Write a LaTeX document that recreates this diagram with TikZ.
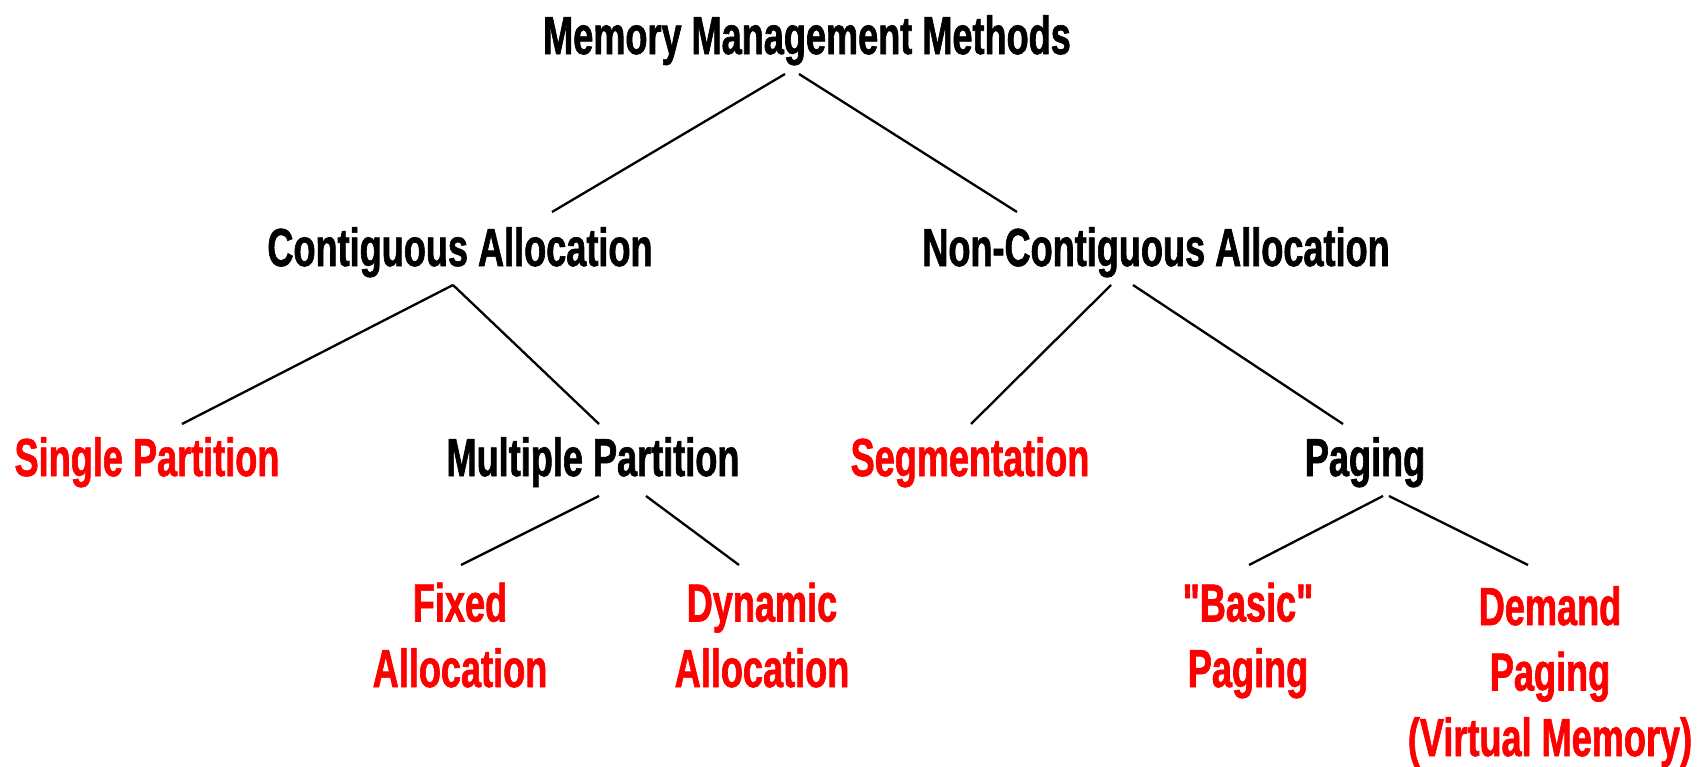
\documentclass[tikz,border=0pt]{standalone}
\usepackage{fontspec}
\setmainfont[FakeStretch=0.675,Ligatures=TeXOff,BoldFeatures={FakeBold=1.2}]{Liberation Sans}
\usetikzlibrary{calc}
\begin{document}
\begin{tikzpicture}[x=1pt,y=-1pt,
  lbl/.style={anchor=base,inner sep=0pt,font=\fontsize{53.5}{65.5}\selectfont\bfseries,align=center},
  leaf/.style={lbl,text=red},
  edge/.style={line width=2.3pt,draw=black}]
\useasboundingbox (0,0) rectangle (1705,766);
\node[lbl]  (t)  at (807,54)   {Memory Management Methods};
\node[lbl]  (ca) at (460,266)  {Contiguous Allocation};
\node[lbl]  (nc) at (1156,266) {Non-Contiguous Allocation};
\node[leaf] (sp) at (147,476)  {Single Partition};
\node[lbl]  (mp) at (593,476)  {Multiple Partition};
\node[leaf] (sg) at (970,476)  {Segmentation};
\node[lbl]  (pg) at (1365,476) {Paging};
\node[leaf] (fx) at (460,687)  {Fixed\\Allocation};
\node[leaf] (dy) at (762,687)  {Dynamic\\Allocation};
\node[leaf] (bp) at (1248,687) {"Basic"\\Paging};
\node[leaf] (dm) at (1550,756) {Demand\\Paging\\(Virtual Memory)};
\draw[edge] ($(t.base)+(-22,20)$) -- ($(ca.base)+(92,-54)$);
\draw[edge] ($(t.base)+(-8,20)$) -- ($(nc.base)+(-139,-54)$);
\draw[edge] ($(ca.base)+(-7,19)$) -- ($(sp.base)+(35,-52)$);
\draw[edge] ($(ca.base)+(-7,19)$) -- ($(mp.base)+(6,-52)$);
\draw[edge] ($(nc.base)+(-45,19)$) -- ($(sg.base)+(1,-52)$);
\draw[edge] ($(nc.base)+(-23,19)$) -- ($(pg.base)+(-22,-52)$);
\draw[edge] ($(mp.base)+(6,20)$) -- ($(fx.base)+(1,-122)$);
\draw[edge] ($(mp.base)+(53,20)$) -- ($(dy.base)+(-23,-122)$);
\draw[edge] ($(pg.base)+(18,20)$) -- ($(bp.base)+(1,-122)$);
\draw[edge] ($(pg.base)+(24,20)$) -- ($(dm.base)+(-22,-191)$);
\end{tikzpicture}
\end{document}
